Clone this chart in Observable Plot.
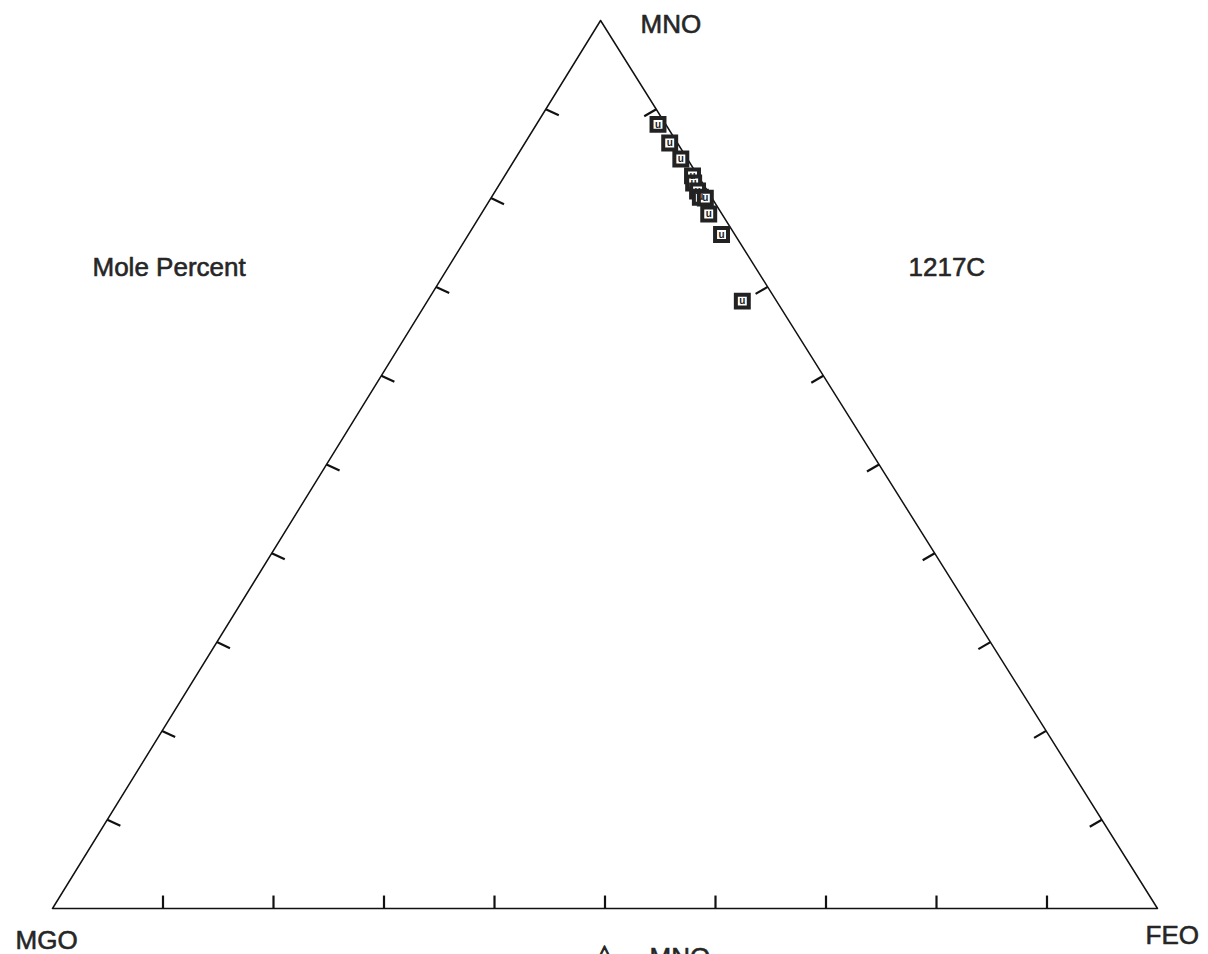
<!DOCTYPE html>
<html>
<head>
<meta charset="utf-8">
<script src="https://cdn.jsdelivr.net/npm/d3@7"></script>
<script src="https://cdn.jsdelivr.net/npm/@observablehq/plot@0.6"></script>
<style>
  html, body { margin: 0; padding: 0; background: #fff; }
  #chart svg { display: block; }
</style>
</head>
<body>
<div id="chart"></div>
<script>
// Ternary components (mole percent)
const vertexNames = ["MGO", "FEO", "MNO"];
const mgo = [0.7, 0.7, 0.6, 0.5, 0.8, 0.9, 1.0, 0.6, 1.2, 1.2, 3.1];
const feo = [11.0, 13.1, 15.0, 17.0, 17.5, 18.3, 18.9, 19.4, 20.6, 22.9, 28.5];
const mno = [88.3, 86.2, 84.4, 82.5, 81.7, 80.8, 80.1, 80.0, 78.2, 75.9, 68.4];
const tickValues = [10, 20, 30, 40, 50, 60, 70, 80, 90];
const sampleLabel = "1217C";
const unitLabel = "Mole Percent";
const legendLabel = "MNO";

// Ternary -> plane (apex slightly left of centre, as in the original)
const apexU = 0.496;
const tx = (a, b, c) => { const s = a + b + c; return 100 * (b / s) + 100 * (c / s) * apexU; };
const ty = (a, b, c) => { const s = a + b + c; return 100 * (c / s); };

const points = mgo.map((a, i) => ({ x: tx(a, feo[i], mno[i]), y: ty(a, feo[i], mno[i]) }));

const vertices = [
  { name: vertexNames[0], x: tx(100, 0, 0), y: ty(100, 0, 0) },
  { name: vertexNames[1], x: tx(0, 100, 0), y: ty(0, 100, 0) },
  { name: vertexNames[2], x: tx(0, 0, 100), y: ty(0, 0, 100) }
];
const outline = [vertices[0], vertices[1], vertices[2], vertices[0]];

// tick marks along each edge, pointing inward
const ticks = [];
for (const t of tickValues) {
  let x = tx(100 - t, t, 0), y = ty(100 - t, t, 0);
  ticks.push({ x1: x, y1: y, x2: x, y2: y + 1.46 });
  x = tx(100 - t, 0, t); y = ty(100 - t, 0, t);
  ticks.push({ x1: x, y1: y, x2: x + 1.18, y2: y - 0.68 });
  x = tx(0, 100 - t, t); y = ty(0, 100 - t, t);
  ticks.push({ x1: x, y1: y, x2: x - 1.09, y2: y - 0.79 });
}

const font = "Liberation Sans, Arial, Helvetica, sans-serif";
const textColor = "#262626";
const txt = { fontSize: 26, fill: textColor, stroke: textColor, strokeWidth: 0.6, fontFamily: font, textAnchor: "start", lineAnchor: "middle" };

const vLabelOffsets = { MGO: [-37, 32], FEO: [-12, 27], MNO: [40, 4] };

const chart = Plot.plot({
  width: 1208,
  height: 954,
  margin: 0,
  style: { fontFamily: font, background: "#fff" },
  x: { domain: [0, 100], range: [52, 1157], axis: null },
  y: { domain: [0, 100], range: [908, 20], axis: null },
  marks: [
    Plot.line(outline, { x: "x", y: "y", stroke: "#111", strokeWidth: 1.5 }),
    Plot.link(ticks, { x1: "x1", y1: "y1", x2: "x2", y2: "y2", stroke: "#111", strokeWidth: 2.2 }),
    ...vertices.map(v => Plot.text([v], {
      ...txt, x: "x", y: "y", text: "name",
      dx: vLabelOffsets[v.name][0], dy: vLabelOffsets[v.name][1]
    })),
    Plot.text([unitLabel], { ...txt, frameAnchor: "top-left", dx: 92, dy: 267 }),
    Plot.text([sampleLabel], { ...txt, frameAnchor: "top-left", dx: 908, dy: 267 }),
    Plot.text(["\u25B3"], { ...txt, frameAnchor: "top-left", dx: 604, dy: 953, textAnchor: "middle", fontSize: 24, strokeWidth: 1, fontFamily: "DejaVu Sans" }),
    Plot.text([legendLabel], { ...txt, frameAnchor: "top-left", dx: 649, dy: 957 }),
    Plot.dot(points, { x: "x", y: "y", symbol: "square", r: 7.3, fill: "#fff", stroke: "#222", strokeWidth: 4 }),
    Plot.text(points, { x: "x", y: "y", text: () => "u", fontSize: 10, fontWeight: "bold", fill: "#222", dy: 0, fontFamily: font })
  ]
});
document.getElementById("chart").appendChild(chart);
</script>
</body>
</html>
